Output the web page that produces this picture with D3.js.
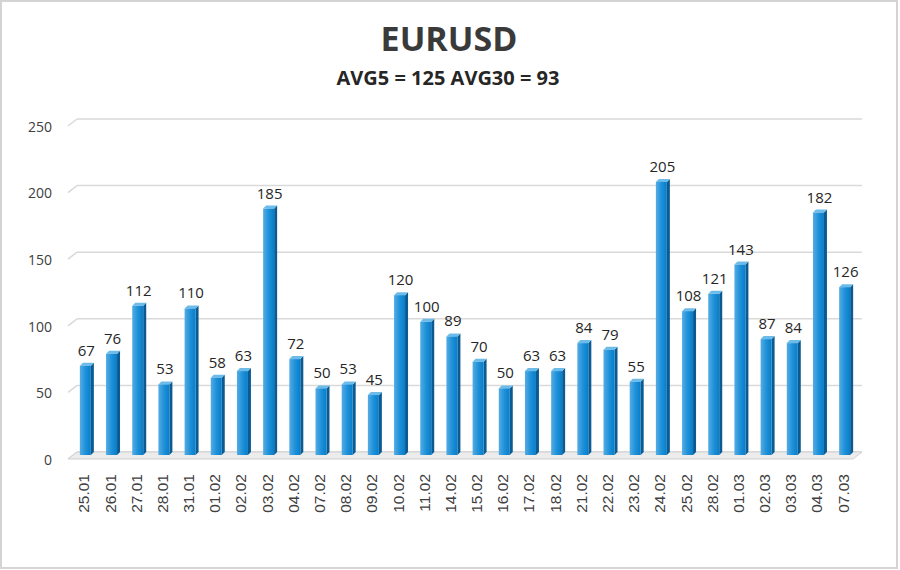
<!DOCTYPE html>
<html>
<head>
<meta charset="utf-8">
<script src="https://cdn.jsdelivr.net/npm/d3@7"></script>
<style>
  body { margin: 0; background: #fff; }
  svg { display: block; font-family: "Open Sans", sans-serif; }
</style>
</head>
<body>
<div id="holder"></div>
<script>
const dates = ["25.01","26.01","27.01","28.01","31.01","01.02","02.02","03.02","04.02","07.02",
               "08.02","09.02","10.02","11.02","14.02","15.02","16.02","17.02","18.02","21.02",
               "22.02","23.02","24.02","25.02","28.02","01.03","02.03","03.03","04.03","07.03"];
const values = [67,76,112,53,110,58,63,185,72,50,53,45,120,100,89,70,50,63,63,84,79,55,205,108,121,143,87,84,182,126];
const yTicks = [0,50,100,150,200,250];
const title = "EURUSD";
const subtitle = "AVG5 = 125 AVG30 = 93";

const width = 900;
const height = 570;
const depth = 3;   // 3d offset of the bars
const wallY = 7;   // drop of the wall lines at the left edge

const svg = d3.select("#holder")
    .append("svg")
    .attr("width", width)
    .attr("height", height);

// frame
svg.append("rect")
    .attr("x", 1).attr("y", 1)
    .attr("width", width - 4).attr("height", height - 3)
    .attr("fill", "#fff")
    .attr("stroke", "#d4d4d4")
    .attr("stroke-width", 2);

const x = d3.scaleBand()
    .domain(dates)
    .range([72, 858])
    .paddingInner(0.58)
    .paddingOuter(0.3);

const y = d3.scaleLinear()
    .domain([0, 250])
    .range([455, 122]);

const defs = svg.append("defs");
const grad = defs.append("linearGradient")
    .attr("id", "front")
    .attr("x1", "0%").attr("x2", "100%");
grad.append("stop").attr("offset", "0%").attr("stop-color", "#55ace4");
grad.append("stop").attr("offset", "55%").attr("stop-color", "#1b8fd8");
grad.append("stop").attr("offset", "100%").attr("stop-color", "#0a7dc8");

// gridlines on the back wall
const grid = svg.append("g");
yTicks.forEach((v) => {
    const gy = y(v) - depth;
    grid.append("line")
        .attr("x1", 77).attr("x2", 862)
        .attr("y1", gy).attr("y2", gy)
        .attr("stroke", "#d9d9d9")
        .attr("stroke-width", 1.5);
    grid.append("line")
        .attr("x1", 68).attr("y1", gy + wallY)
        .attr("x2", 77).attr("y2", gy)
        .attr("stroke", "#d9d9d9")
        .attr("stroke-width", 1.5);
});

// floor
const fy = y(0) - depth;
svg.append("polygon")
    .attr("points", [[68, fy + wallY], [77, fy], [862, fy], [853, fy + wallY]].map(p => p.join(",")).join(" "))
    .attr("fill", "#ececec")
    .attr("stroke", "#d0d0d0")
    .attr("stroke-width", 1);

// y axis labels
svg.append("g")
    .selectAll("text")
    .data(yTicks)
    .enter()
    .append("text")
    .attr("x", 52)
    .attr("y", (d) => y(d) + 6)
    .attr("text-anchor", "end")
    .attr("dominant-baseline", "middle")
    .attr("font-size", 14)
    .attr("fill", "#404040")
    .text((d) => d);

// bars
const bars = svg.append("g")
    .selectAll("g")
    .data(values)
    .enter()
    .append("g");

bars.append("polygon")
    .attr("points", (d, i) => {
        const x0 = x(dates[i]) + x.bandwidth();
        const top = y(d), bot = y(0);
        return [[x0, top], [x0 + depth, top - depth], [x0 + depth, bot - depth], [x0, bot]].map(p => p.join(",")).join(" ");
    })
    .attr("fill", "#0b5a92");

bars.append("polygon")
    .attr("points", (d, i) => {
        const x0 = x(dates[i]), x1 = x0 + x.bandwidth();
        const top = y(d);
        return [[x0, top], [x0 + depth, top - depth], [x1 + depth, top - depth], [x1, top]].map(p => p.join(",")).join(" ");
    })
    .attr("fill", "#6cbbe9");

bars.append("rect")
    .attr("x", (d, i) => x(dates[i]))
    .attr("y", (d) => y(d))
    .attr("width", x.bandwidth())
    .attr("height", (d) => y(0) - y(d))
    .attr("fill", "url(#front)");

// value labels
svg.append("g")
    .selectAll("text")
    .data(values)
    .enter()
    .append("text")
    .attr("x", (d, i) => x(dates[i]) + x.bandwidth() / 2 + 1)
    .attr("y", (d) => y(d) - 10)
    .attr("text-anchor", "middle")
    .attr("font-size", 15)
    .attr("fill", "#262626")
    .text((d) => d);

// x axis labels
svg.append("g")
    .selectAll("text")
    .data(dates)
    .enter()
    .append("text")
    .attr("transform", (d) => `translate(${x(d) + x.bandwidth() / 2 + 4}, 474) rotate(-90)`)
    .attr("text-anchor", "end")
    .attr("font-family", "'Liberation Sans', Arial, sans-serif")
    .attr("font-size", 15.5)
    .attr("fill", "#404040")
    .text((d) => d);

// titles
svg.append("text")
    .attr("x", 449).attr("y", 51)
    .attr("text-anchor", "middle")
    .attr("font-size", 34)
    .attr("font-weight", "bold")
    .attr("fill", "#3a3a3a")
    .text(title);

svg.append("text")
    .attr("x", 448).attr("y", 85)
    .attr("text-anchor", "middle")
    .attr("font-size", 20)
    .attr("font-weight", "bold")
    .attr("fill", "#262626")
    .text(subtitle);
</script>
</body>
</html>
